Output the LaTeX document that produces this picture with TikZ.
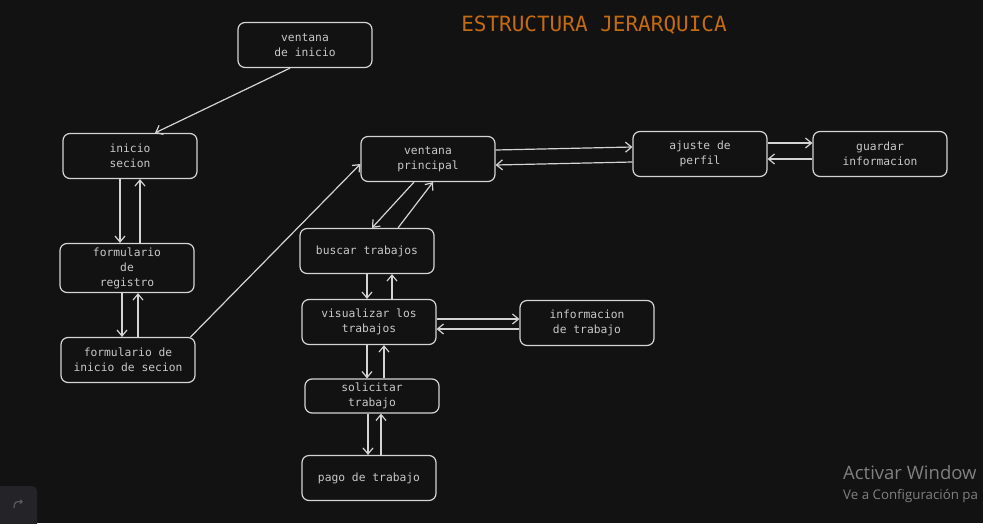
\documentclass[tikz,border=0pt]{standalone}
\usepackage{fontspec}
\setmonofont{DejaVu Sans Mono}
\newfontfamily\winfont{Open Sans}
\usetikzlibrary{arrows.meta}
\definecolor{bg}{HTML}{121212}
\definecolor{ink}{HTML}{D4D4D4}
\definecolor{txt}{HTML}{C8C8C8}
\definecolor{ttl}{HTML}{C46A10}
\definecolor{wm}{HTML}{808080}
\definecolor{btn}{HTML}{232328}
\definecolor{btnink}{HTML}{5A5A60}
\begin{document}
\begin{tikzpicture}[x=1pt,y=-1pt,
  box/.style={draw=ink, line width=1.2pt, rounded corners=7pt, fill=bg,
    minimum width=134pt, minimum height=45pt, align=center, text=txt,
    font=\ttfamily\fontsize{11.3}{15}\selectfont, inner sep=2pt},
  arr/.style={draw=ink, line width=1.2pt, -{Straight Barb[length=6pt,width=10pt]}}]
\useasboundingbox (0,0) rectangle (983,523);
\fill[bg] (0,0) rectangle (983,523);
\node[text=ttl, font=\ttfamily\fontsize{21}{24}\selectfont] (title) at (594,25) {ESTRUCTURA JERARQUICA};

\node[box] (vi) at (305,45) {ventana\\de inicio};
\node[box] (is) at (130,156) {inicio\\ secion};
\node[box, minimum height=49pt] (fr) at (127,268) {formulario\\de\\registro};
\node[box] (fi) at (128,360) {formulario de\\inicio de secion};
\node[box] (vp) at (428,159) {ventana\\principal};
\node[box] (bt) at (367,251) {buscar trabajos};
\node[box] (vt) at (369,322) {visualizar los\\trabajos};
\node[box, minimum height=34pt] (st) at (372,396) {solicitar\\ trabajo};
\node[box] (pt) at (369,478) {pago de trabajo};
\node[box] (it) at (587,323) {informacion\\de trabajo};
\node[box] (ap) at (700,154) {ajuste de\\perfil};
\node[box] (gi) at (880,154) {guardar\\informacion};

% connectors
\draw[arr] ([xshift=-15pt]vi.south) -- ([xshift=25pt]is.north);
\draw[arr] ([xshift=-10pt]is.south) -- ([xshift=-10pt]is.south |- fr.north);
\draw[arr] ([xshift=13pt]fr.north) -- ([xshift=13pt]fr.north |- is.south);
\draw[arr] ([xshift=-5pt]fr.south) -- ([xshift=-5pt]fr.south |- fi.north);
\draw[arr] ([xshift=10pt]fi.north) -- ([xshift=10pt]fi.north |- fr.south);
\coordinate (c1) at ([xshift=-5pt]fi.north east);
\draw[arr] (c1) -- ([yshift=-5pt]vp.west);
\draw[arr] ([xshift=-14pt]vp.south) -- ([xshift=5pt]bt.north);
\draw[arr] ([xshift=31pt]bt.north) -- ([xshift=5pt]vp.south);
\draw[arr] (bt.south) -- (bt.south |- vt.north);
\draw[arr] ([xshift=23pt]vt.north) -- ([xshift=23pt]vt.north |- bt.south);
\draw[arr] ([yshift=3pt]vt.east) -- ([yshift=3pt]vt.east -| it.west);
\draw[arr] ([yshift=-6pt]it.west) -- ([yshift=-6pt]it.west -| vt.east);
\draw[arr] ([xshift=-2pt]vt.south) -- ([xshift=-2pt]vt.south |- st.north);
\draw[arr] ([xshift=12pt]st.north) -- ([xshift=12pt]st.north |- vt.south);
\draw[arr] ([xshift=-4pt]st.south) -- ([xshift=-4pt]st.south |- pt.north);
\draw[arr] ([xshift=12pt]pt.north) -- ([xshift=12pt]pt.north |- st.south);
\draw[arr] ([yshift=9pt]vp.east) -- ([yshift=7pt]ap.west);
\draw[arr] ([yshift=-8pt]ap.west) -- ([yshift=-6pt]vp.east);
\draw[arr] ([yshift=11pt]ap.east) -- ([yshift=11pt]ap.east -| gi.west);
\draw[arr] ([yshift=-5pt]gi.west) -- ([yshift=-5pt]gi.west -| ap.east);

% watermark and corner button
\node[anchor=base west, inner sep=0, text=wm, font=\winfont\fontsize{18.5}{20}\selectfont] (wm1) at (843,479) {Activar Window};
\node[anchor=base west, inner sep=0, text=wm, font=\winfont\fontsize{13.3}{16}\selectfont] (wm2) at (843,499) {Ve a Configuración pa};
\begin{scope}
\clip (0,0) rectangle (983,523);
\fill[btn, rounded corners=5pt] (-6,486) rectangle (37,530);
\draw[draw=btnink, line width=1.2pt, -{Straight Barb[length=2pt,width=4pt]}] (14,508) .. controls (14,502) and (16,501) .. (23,502);
\end{scope}
\end{tikzpicture}
\end{document}
